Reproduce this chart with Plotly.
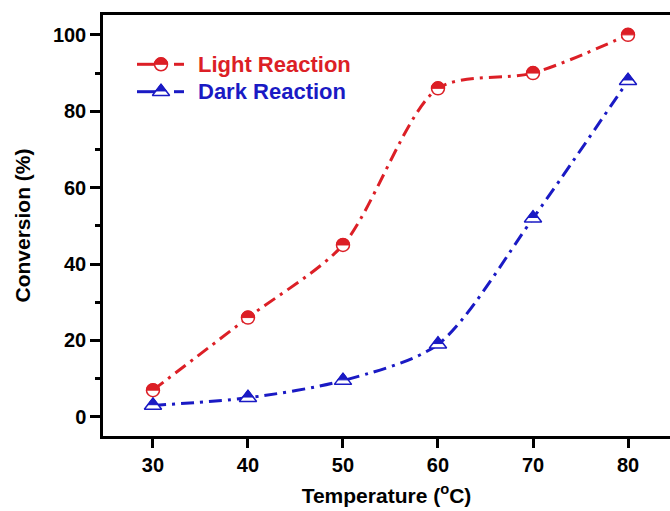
import math
import plotly.graph_objects as go

# ---- data ----
temperature = [30, 40, 50, 60, 70, 80]
light_conv = [7, 26, 45, 86, 90, 100]
dark_conv = [3, 5, 9.5, 19, 52, 88]
series_names = ["Light Reaction", "Dark Reaction"]
y_ticks = [0, 20, 40, 60, 80, 100]
x_ticks = [30, 40, 50, 60, 70, 80]

RED = "#dc1f26"
BLUE = "#1a1ac4"
FONT = "Arial, Liberation Sans, sans-serif"

W, H = 670, 511
ML, MR, MT, MB = 103, 0, 15, 75
PW, PH = W - ML - MR, H - MT - MB
XR = [24.74, 84.42]
YR = [-5.0, 105.2]
kx = PW / (XR[1] - XR[0])
ky = PH / (YR[1] - YR[0])

MS = 13      # circle marker size
TS = 15      # triangle marker size
TRI_FILL = 0.6
DASH = "13px,6px,3px,6px"


def top_half_circle(cx, cy, r, sx, sy):
    rx, ry = r / sx, r / sy
    k = 0.5523
    return (f"M {cx-rx},{cy} C {cx-rx},{cy+k*ry} {cx-k*rx},{cy+ry} {cx},{cy+ry} "
            f"C {cx+k*rx},{cy+ry} {cx+rx},{cy+k*ry} {cx+rx},{cy} Z")


def top_part_triangle(cx, cy, r, sx, sy, f=TRI_FILL):
    # plotly triangle-up: apex r above centre, base r/2 below, half-width 2r/sqrt(3)
    hw = (2 * r / math.sqrt(3)) * f / sx
    yap = cy + r / sy
    ycut = yap - 1.5 * r * f / sy
    return f"M {cx-hw},{ycut} L {cx+hw},{ycut} L {cx},{yap} Z"


fig = go.Figure()

# lines
fig.add_trace(go.Scatter(x=temperature, y=light_conv, mode="lines",
                         line=dict(color=RED, width=3, dash=DASH, shape="spline", smoothing=0.8),
                         showlegend=False, hoverinfo="skip"))
fig.add_trace(go.Scatter(x=temperature, y=dark_conv, mode="lines",
                         line=dict(color=BLUE, width=3, dash=DASH, shape="spline", smoothing=0.8),
                         showlegend=False, hoverinfo="skip"))
# circle markers (white fill, top half filled by shapes)
fig.add_trace(go.Scatter(x=temperature, y=light_conv, mode="markers", name=series_names[0],
                         marker=dict(symbol="circle", size=MS, color="white",
                                     line=dict(color=RED, width=1.5)),
                         showlegend=False))
# triangle markers (white fill, top part filled by shapes)
fig.add_trace(go.Scatter(x=temperature, y=dark_conv, mode="markers", name=series_names[1],
                         marker=dict(symbol="triangle-up", size=TS, color="white",
                                     line=dict(color=BLUE, width=1.5)),
                         showlegend=False))

shapes = []
for t, v in zip(temperature, light_conv):
    shapes.append(dict(type="path", xref="x", yref="y",
                       path=top_half_circle(t, v, MS / 2, kx, ky),
                       fillcolor=RED, line=dict(color=RED, width=1), layer="above"))
for t, v in zip(temperature, dark_conv):
    shapes.append(dict(type="path", xref="x", yref="y",
                       path=top_part_triangle(t, v, TS / 2, kx, ky),
                       fillcolor=BLUE, line=dict(color=BLUE, width=1), layer="above"))


# ---- manual legend (overlay axes spanning the plot area) ----
def px2x(px):
    return (px - ML) / PW


def py2y(py):
    return (MT + PH - py) / PH


leg_rows = [(64.3, RED, series_names[0], "circle"), (91.7, BLUE, series_names[1], "triangle")]
for py, col, name, kind in leg_rows:
    yy = py2y(py)
    fig.add_trace(go.Scatter(x=[px2x(137), px2x(158), None, px2x(174), px2x(184)],
                             y=[yy, yy, None, yy, yy], mode="lines", xaxis="x2", yaxis="y2",
                             line=dict(color=col, width=3), showlegend=False, hoverinfo="skip"))
    sym = "circle" if kind == "circle" else "triangle-up"
    sz = MS if kind == "circle" else TS
    fig.add_trace(go.Scatter(x=[px2x(161)], y=[yy], mode="markers", xaxis="x2", yaxis="y2",
                             marker=dict(symbol=sym, size=sz, color="white",
                                         line=dict(color=col, width=1.5)),
                             showlegend=False, hoverinfo="skip"))
    if kind == "circle":
        p = top_half_circle(px2x(161), yy, MS / 2, PW, PH)
    else:
        p = top_part_triangle(px2x(161), yy, TS / 2, PW, PH)
    shapes.append(dict(type="path", xref="x2", yref="y2", path=p,
                       fillcolor=col, line=dict(color=col, width=1), layer="above"))

annotations = []
for py, col, name, kind in leg_rows:
    annotations.append(dict(x=px2x(196), y=py2y(py), xref="paper", yref="paper",
                            text=name, showarrow=False, xanchor="left", yanchor="middle",
                            font=dict(family=FONT, size=22, color=col, weight="bold")))

fig.update_layout(
    width=W, height=H,
    margin=dict(l=ML, r=MR, t=MT, b=MB),
    paper_bgcolor="white", plot_bgcolor="white",
    showlegend=False,
    shapes=shapes,
    annotations=annotations,
    xaxis=dict(range=XR, tickvals=x_ticks, ticks="outside", ticklen=9, tickwidth=2.5,
               tickcolor="black", showline=True, linecolor="black", linewidth=2.5,
               mirror=True, showgrid=False, zeroline=False,
               tickfont=dict(family=FONT, size=20, color="black", weight="bold"),
               title=dict(text="Temperature (<sup>o</sup>C)", standoff=14,
                          font=dict(family=FONT, size=21, color="black", weight="bold"))),
    yaxis=dict(range=YR, tickvals=y_ticks, ticks="outside", ticklen=10, tickwidth=2.5,
               tickcolor="black", showline=True, linecolor="black", linewidth=2.5,
               mirror=False, showgrid=False, zeroline=False,
               minor=dict(dtick=10, tick0=0, ticks="outside", ticklen=5, tickwidth=2.5,
                          tickcolor="black", showgrid=False),
               tickfont=dict(family=FONT, size=20, color="black", weight="bold"),
               title=dict(text="Conversion (%)", standoff=17,
                          font=dict(family=FONT, size=21, color="black", weight="bold"))),
    xaxis2=dict(overlaying="x", anchor="y2", range=[0, 1], visible=False),
    yaxis2=dict(overlaying="y", anchor="x2", range=[0, 1], visible=False),
)

fig.write_html("out.html")
